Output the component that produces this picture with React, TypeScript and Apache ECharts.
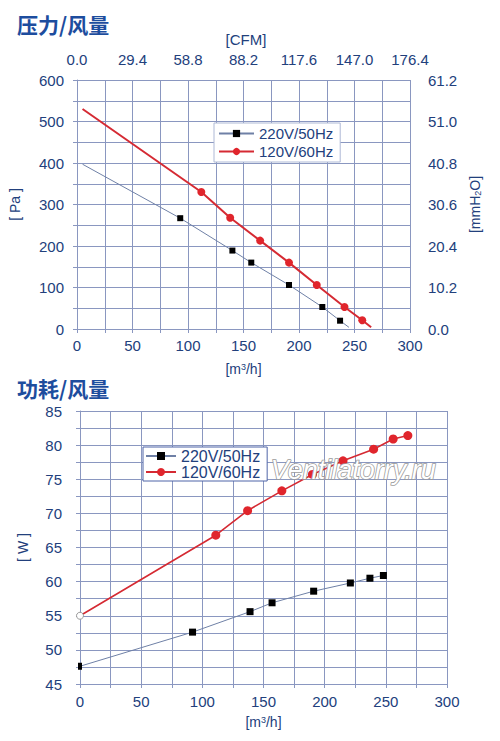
import React, { useEffect, useRef } from "react";
import * as echarts from "echarts";

// ---------- data ----------
const seriesNames = ["220V/50Hz", "120V/60Hz"];

const flowTicks = [0, 50, 100, 150, 200, 250, 300];
const cfmLabels = ["0.0", "29.4", "58.8", "88.2", "117.6", "147.0", "176.4"];
const mmLabels = ["0.0", "10.2", "20.4", "30.6", "40.8", "51.0", "61.2"];

// Pressure vs flow (Pa vs m3/h)
const pressure50Flow = [5, 93, 140, 157, 191, 221, 237, 245];
const pressure50 = [397, 267, 189, 160, 106, 53, 20, 4];
const pressure60Flow = [5, 112, 138, 165, 191, 216, 241, 257, 265];
const pressure60 = [530, 330, 268, 213, 160, 106, 53, 21, 4];

// Power vs flow (W vs m3/h)
const power50Flow = [0, 92, 139, 157, 191, 221, 237, 248];
const power50 = [47.6, 52.6, 55.6, 56.9, 58.6, 59.8, 60.5, 60.9];
const power60Flow = [0, 111, 137, 165, 190, 215, 240, 256, 268];
const power60 = [55.0, 66.8, 70.4, 73.3, 75.7, 77.7, 79.4, 80.9, 81.4];

// ---------- styles ----------
const FONT = '"Liberation Sans", Arial, sans-serif';
const TEXT = "#22407c";
const TITLE = "#1d4d9e";
const GRID = "#8a97c0";
const RED = "#e0252c";
const RED_LINE = "#d52a33";
const BLACK_LINE = "#6f80a6";

function pairs(xs: number[], ys: number[]) {
  return xs.map((x, i) => [x, ys[i]]);
}

export default function App() {
  const ref = useRef<HTMLDivElement>(null);

  useEffect(() => {
    if (!ref.current) return;
    const chart = echarts.init(ref.current, undefined, { renderer: "svg" });

    const gridAxisBase = (min: number, max: number, interval: number) => ({
      type: "value" as const,
      min,
      max,
      interval,
      axisLine: { show: true, lineStyle: { color: GRID, width: 1 } },
      axisTick: { show: true, length: 4, lineStyle: { color: GRID } },
      minorTick: { show: true, splitNumber: 2, length: 4, lineStyle: { color: GRID } },
      splitLine: { show: true, lineStyle: { color: GRID, width: 1 } },
      minorSplitLine: { show: true, lineStyle: { color: GRID, width: 1 } },
      axisLabel: { color: TEXT, fontSize: 15, fontFamily: FONT },
      nameTextStyle: {
        color: TEXT,
        fontSize: 14,
        fontFamily: FONT,
        rich: {
          sup: { fontSize: 9, verticalAlign: "top", color: TEXT, fontFamily: FONT },
          sub: { fontSize: 9, verticalAlign: "bottom", color: TEXT, fontFamily: FONT },
        },
      },
    });

    const p50 = pairs(pressure50Flow, pressure50).map((v, i, a) =>
      i === 0 || i === a.length - 1 ? { value: v, symbol: "none" } : { value: v }
    );
    const p60 = pairs(pressure60Flow, pressure60).map((v, i, a) =>
      i === 0 || i === a.length - 1 ? { value: v, symbol: "none" } : { value: v }
    );
    const w50 = pairs(power50Flow, power50).map((v, i) =>
      i === 0 ? { value: v, symbolSize: [4, 7] } : { value: v }
    );
    const w60 = pairs(power60Flow, power60).map((v, i) =>
      i === 0
        ? { value: v, symbolSize: 7, itemStyle: { color: "#ffffff", borderColor: "#9a9a9a", borderWidth: 1 } }
        : { value: v }
    );

    const option: any = {
      animation: false,
      backgroundColor: "#ffffff",
      title: [
        {
          text: "压力/风量",
          left: 17,
          top: 13,
          padding: 0,
          textStyle: { fontSize: 21, fontWeight: "bold", color: TITLE, fontFamily: '"Noto Sans CJK SC", sans-serif' },
        },
        {
          text: "功耗/风量",
          left: 17,
          top: 377,
          padding: 0,
          textStyle: { fontSize: 21, fontWeight: "bold", color: TITLE, fontFamily: '"Noto Sans CJK SC", sans-serif' },
        },
      ],
      legend: [
        {
          data: seriesNames,
          orient: "vertical",
          left: 214,
          top: 123,
          itemWidth: 35,
          itemHeight: 9,
          itemGap: 3,
          padding: [3, 7, 3, 4],
          backgroundColor: "#ffffff",
          borderColor: "#aeb9d6",
          borderWidth: 1,
          selectedMode: false,
          textStyle: { fontSize: 15, color: TEXT, fontFamily: FONT },
        },
        {
          data: seriesNames,
          orient: "vertical",
          left: 143,
          top: 447,
          itemWidth: 30,
          itemHeight: 10,
          itemGap: 0,
          padding: [1, 7, 1, 2],
          backgroundColor: "#ffffff",
          borderColor: "#4f64a8",
          borderWidth: 1,
          selectedMode: false,
          textStyle: { fontSize: 16, lineHeight: 14, color: TEXT, fontFamily: FONT },
        },
      ],
      grid: [
        { left: 73, top: 80, width: 337, height: 249, containLabel: false },
        { left: 80, top: 411, width: 367, height: 273, containLabel: false },
      ],
      xAxis: [
        {
          ...gridAxisBase(0, 300, 50),
          gridIndex: 0,
          position: "bottom",
          name: "[m{sup|3}/h]",
          nameLocation: "middle",
          nameGap: 33,
          axisLabel: { color: TEXT, fontSize: 15, fontFamily: FONT, margin: 9 },
        },
        {
          ...gridAxisBase(0, 300, 50),
          gridIndex: 0,
          position: "top",
          axisLine: { show: false },
          axisTick: { show: false },
          minorTick: { show: false },
          splitLine: { show: false },
          minorSplitLine: { show: false },
          name: "[CFM]",
          nameLocation: "middle",
          nameGap: 33,
          nameTextStyle: { color: TEXT, fontSize: 15, fontFamily: FONT, padding: [0, 0, 0, 5] },
          axisLabel: {
            color: TEXT,
            fontSize: 15,
            fontFamily: FONT,
            margin: 13,
            formatter: (v: number) => {
              const i = flowTicks.indexOf(v);
              return i >= 0 ? cfmLabels[i] : "";
            },
          },
        },
        {
          ...gridAxisBase(0, 300, 50),
          gridIndex: 1,
          position: "bottom",
          name: "[m{sup|3}/h]",
          nameLocation: "middle",
          nameGap: 31,
          axisLabel: { color: TEXT, fontSize: 15, fontFamily: FONT, margin: 10 },
        },
      ],
      yAxis: [
        {
          ...gridAxisBase(0, 600, 100),
          gridIndex: 0,
          position: "left",
          name: "[ Pa ]",
          nameLocation: "middle",
          nameGap: 55,
          axisLabel: { color: TEXT, fontSize: 15, fontFamily: FONT, margin: 13 },
        },
        {
          ...gridAxisBase(0, 600, 100),
          gridIndex: 0,
          position: "right",
          axisLine: { show: false },
          axisTick: { show: false },
          minorTick: { show: false },
          splitLine: { show: false },
          minorSplitLine: { show: false },
          name: "[mmH{sub|2}O]",
          nameLocation: "middle",
          nameGap: 58,
          axisLabel: {
            color: TEXT,
            fontSize: 15,
            fontFamily: FONT,
            margin: 18,
            formatter: (v: number) => {
              const i = Math.round(v / 100);
              return mmLabels[i] ?? "";
            },
          },
        },
        {
          ...gridAxisBase(45, 85, 5),
          gridIndex: 1,
          position: "left",
          name: "[ W ]",
          nameLocation: "middle",
          nameGap: 50,
          axisLabel: { color: TEXT, fontSize: 15, fontFamily: FONT, margin: 18 },
        },
      ],
      graphic: [
        {
          type: "text",
          left: 270,
          top: 456,
          z: 100,
          style: {
            text: "Ventilatorry.ru",
            font: 'italic 27px "Liberation Sans", Arial, sans-serif',
            fill: "#ffffff",
            stroke: "#9c9c9c",
            lineWidth: 1.6,
          },
        },
      ],
      series: [
        {
          name: seriesNames[0],
          type: "line",
          xAxisIndex: 0,
          yAxisIndex: 0,
          data: p50,
          symbol: "rect",
          symbolSize: 6,
          showAllSymbol: true,
          itemStyle: { color: "#000000" },
          lineStyle: { color: BLACK_LINE, width: 1 },
          z: 3,
        },
        {
          name: seriesNames[1],
          type: "line",
          xAxisIndex: 0,
          yAxisIndex: 0,
          data: p60,
          symbol: "circle",
          symbolSize: 8,
          showAllSymbol: true,
          itemStyle: { color: RED },
          lineStyle: { color: RED_LINE, width: 2 },
          z: 4,
        },
        {
          name: seriesNames[0],
          type: "line",
          xAxisIndex: 2,
          yAxisIndex: 2,
          data: w50,
          symbol: "rect",
          symbolSize: 7,
          showAllSymbol: true,
          itemStyle: { color: "#000000" },
          lineStyle: { color: BLACK_LINE, width: 1 },
          z: 3,
        },
        {
          name: seriesNames[1],
          type: "line",
          xAxisIndex: 2,
          yAxisIndex: 2,
          data: w60,
          symbol: "circle",
          symbolSize: 9,
          showAllSymbol: true,
          itemStyle: { color: RED },
          lineStyle: { color: RED_LINE, width: 1.6 },
          z: 4,
        },
      ],
    };

    chart.setOption(option);
    return () => chart.dispose();
  }, []);

  return (
    <div
      ref={ref}
      style={{ position: "fixed", left: 0, top: 0, width: 500, height: 741, background: "#fff" }}
    />
  );
}
